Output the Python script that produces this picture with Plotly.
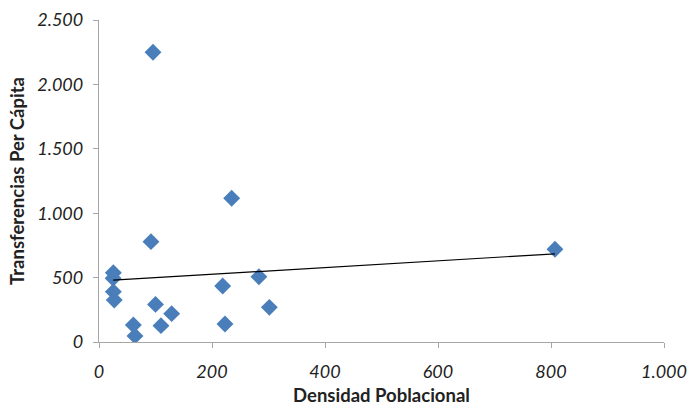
import numpy as np
import plotly.graph_objects as go

# Densidad poblacional vs transferencias per cápita
densidad = [95.6, 234.8, 92, 25.4, 25, 25.4, 27, 60.8, 63.7, 100, 109.7, 128.6,
            218.9, 223, 283, 301.5, 807]
transferencias = [2250, 1116, 779, 538, 495, 391, 326, 132, 47, 292, 127, 220,
                  435, 140, 507, 269, 720]

x_ticks = [0, 200, 400, 600, 800, 1000]
y_ticks = [0, 500, 1000, 1500, 2000, 2500]

# línea de tendencia lineal (mínimos cuadrados)
pendiente, intercepto = np.polyfit(densidad, transferencias, 1)
x_tend = [min(densidad), max(densidad)]
y_tend = [pendiente * x + intercepto for x in x_tend]

fig = go.Figure()
fig.add_trace(go.Scatter(
    x=densidad, y=transferencias, mode="markers",
    marker=dict(symbol="diamond", size=13, color="#4a7ebb"),
    showlegend=False, hoverinfo="x+y"))
fig.add_trace(go.Scatter(
    x=x_tend, y=y_tend, mode="lines",
    line=dict(color="black", width=1.2),
    showlegend=False, hoverinfo="skip"))

eje = dict(showgrid=False, zeroline=False, showline=True, linecolor="#a6a6a6",
           linewidth=1.3, ticks="outside", ticklen=5, tickcolor="#a6a6a6",
           tickformat=",d", automargin=False,
           tickfont=dict(family="Lato, sans-serif", size=18, color="#222",
                         style="italic"))
fuente_titulo = dict(family="Lato, sans-serif", size=18.5, color="#222")

fig.update_layout(
    width=688, height=406,
    margin=dict(l=99, r=24, t=20, b=64),
    plot_bgcolor="white", paper_bgcolor="white",
    separators=",.",
    xaxis=dict(eje, range=[0, 1000], tickvals=x_ticks, ticklabelstandoff=8,
               title=dict(text="<b>Densidad Poblacional</b>", standoff=17,
                          font=fuente_titulo)),
    yaxis=dict(eje, range=[0, 2500], tickvals=y_ticks, ticklabelstandoff=6,
               title=dict(text="<b>Transferencias Per Cápita</b>", standoff=7,
                          font=fuente_titulo)),
)

# sin margen del <body> para que la figura ocupe toda la ventana
fig.write_html("out.html", config={"displayModeBar": False},
               post_script="document.body.style.margin='0';")
